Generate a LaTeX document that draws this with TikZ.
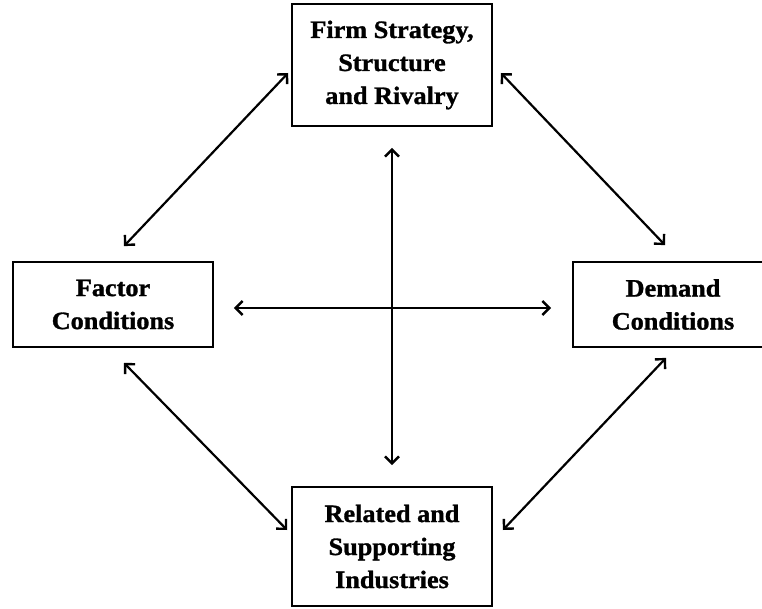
\documentclass[tikz,border=0pt]{standalone}
\usepackage{fontspec}
\setmainfont{Liberation Serif}[FakeStretch=1.05,BoldFeatures={FakeBold=1.2}]
\usetikzlibrary{arrows.meta}
\begin{document}
\begin{tikzpicture}[x=1pt,y=-1pt,
  box/.style={draw,line width=1.8pt,align=center,inner sep=0pt,
    font=\fontsize{25}{33}\selectfont\bfseries},
  biarrow/.style={line width=2.2pt,{Straight Barb[length=7pt,width=14pt,line width=2.4pt]}-{Straight Barb[length=7pt,width=14pt,line width=2.4pt]}}]
\useasboundingbox (0,0) rectangle (762,609);
\clip (0,0) rectangle (762,609);
\fill[white] (0,0) rectangle (762,609);
\node[box,minimum width=200pt,minimum height=122pt] (top) at (392,65) {Firm Strategy,\\Structure\\and Rivalry};
\node[box,minimum width=200pt,minimum height=85pt] (left) at (113,304.5) {Factor\\Conditions};
\node[box,minimum width=200pt,minimum height=85pt] (right) at (673,304.5) {Demand\\Conditions};
\node[box,minimum width=200pt,minimum height=119pt] (bottom) at (392,546.5) {Related and\\Supporting\\Industries};
\draw[biarrow] ([shift={(-3,8)}]top.west) -- ([shift={(11,-15)}]left.north);
\draw[biarrow] ([shift={(8,8)}]top.east) -- ([shift={(-8,-16)}]right.north);
\draw[biarrow] ([shift={(11,15)}]left.south) -- ([shift={(-4,-16.5)}]bottom.west);
\draw[biarrow] ([shift={(-7,10)}]right.south) -- ([shift={(10,-16.5)}]bottom.east);
\draw[biarrow] ([shift={(20,3.5)}]left.east) -- ([shift={(-21,3.5)}]right.west);
\draw[biarrow] ([shift={(0,21)}]top.south) -- ([shift={(0,-21)}]bottom.north);
\end{tikzpicture}
\end{document}
